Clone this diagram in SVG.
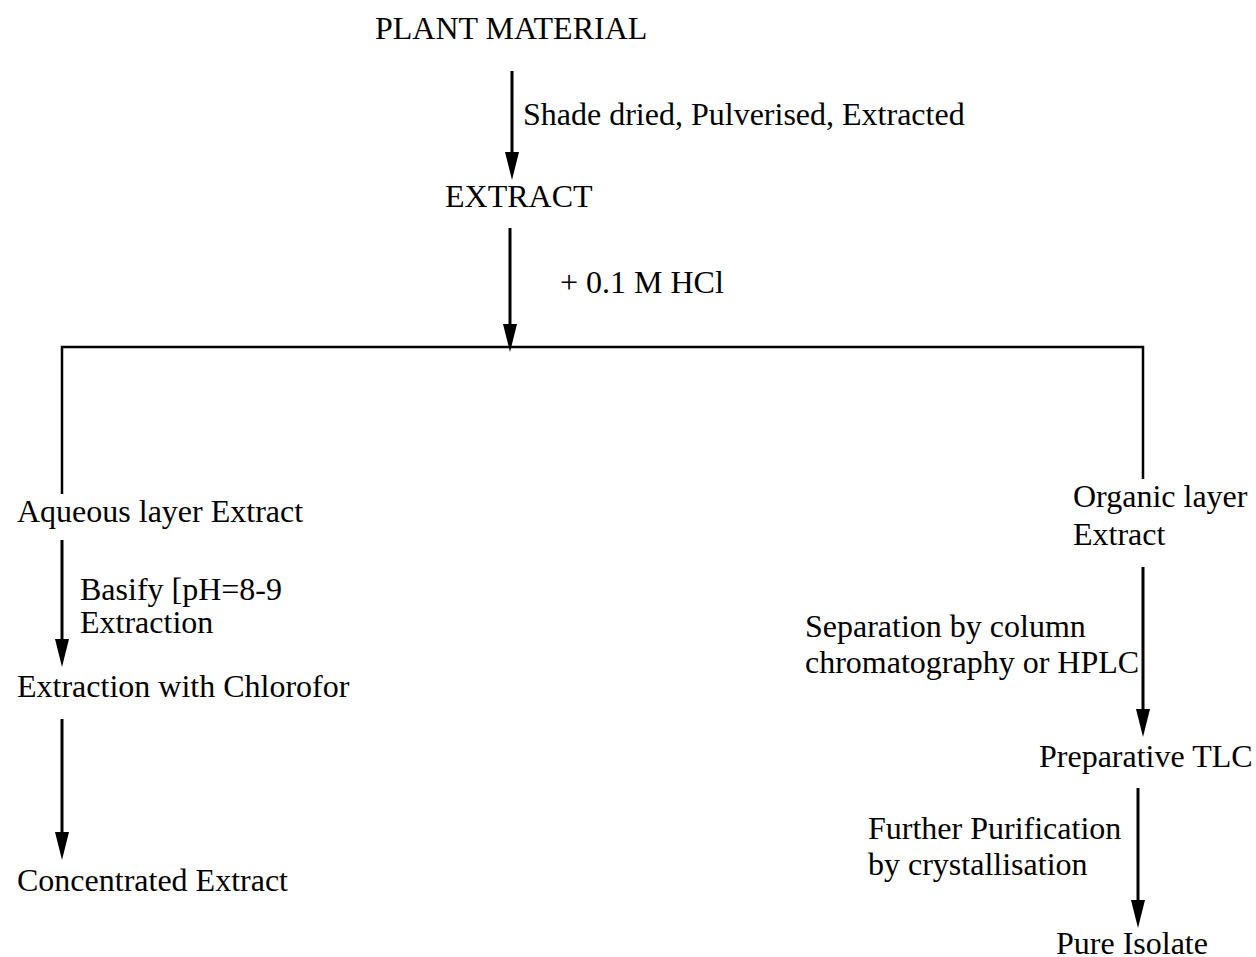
<svg xmlns="http://www.w3.org/2000/svg" width="1256" height="957" viewBox="0 0 1256 957">
<style>
text{font-family:"Liberation Serif","Times New Roman",serif;font-size:32px;fill:#000}
.ln{stroke:#000;stroke-width:2.5;fill:none}
.ar{stroke:#000;stroke-width:3;fill:none}
</style>
<defs>
<marker id="ah" markerUnits="userSpaceOnUse" viewBox="0 0 28 14" refX="13" refY="7" markerWidth="28" markerHeight="14" orient="auto">
<path d="M0,0 L28,7 L0,14 Z" fill="#000"/>
</marker>
</defs>
<rect width="1256" height="957" fill="#fff"/>
<g id="connectors">
<line class="ar" x1="512" y1="71" x2="512" y2="165" marker-end="url(#ah)"/>
<line class="ar" x1="510" y1="228" x2="510" y2="337" marker-end="url(#ah)"/>
<polyline class="ln" points="62,494 62,347 1143,347 1143,479"/>
<line class="ar" x1="62" y1="540" x2="62" y2="652" marker-end="url(#ah)"/>
<line class="ar" x1="62" y1="719" x2="62" y2="845" marker-end="url(#ah)"/>
<line class="ar" x1="1143" y1="567" x2="1143" y2="722" marker-end="url(#ah)"/>
<line class="ar" x1="1138" y1="788" x2="1138" y2="913" marker-end="url(#ah)"/>
</g>
<g id="plant"><text x="375" y="39">PLANT MATERIAL</text></g>
<g id="label-shade"><text x="523" y="125">Shade dried, Pulverised, Extracted</text></g>
<g id="extract"><text x="445" y="207">EXTRACT</text></g>
<g id="label-hcl"><text x="560" y="293">+ 0.1 M HCl</text></g>
<g id="aqueous"><text x="17" y="522">Aqueous layer Extract</text></g>
<g id="label-basify"><text x="80" y="600">Basify [pH=8-9</text><text x="80" y="633">Extraction</text></g>
<g id="chloroform"><text x="17" y="697">Extraction with Chlorofor</text></g>
<g id="concentrated"><text x="17" y="891">Concentrated Extract</text></g>
<g id="organic"><text x="1073" y="507">Organic layer</text><text x="1073" y="545">Extract</text></g>
<g id="label-separation"><text x="805" y="637">Separation by column</text><text x="805" y="673">chromatography or HPLC</text></g>
<g id="tlc"><text x="1039" y="767">Preparative TLC</text></g>
<g id="label-purification"><text x="868" y="839">Further Purification</text><text x="868" y="875">by crystallisation</text></g>
<g id="pure"><text x="1056" y="954">Pure Isolate</text></g>
</svg>
